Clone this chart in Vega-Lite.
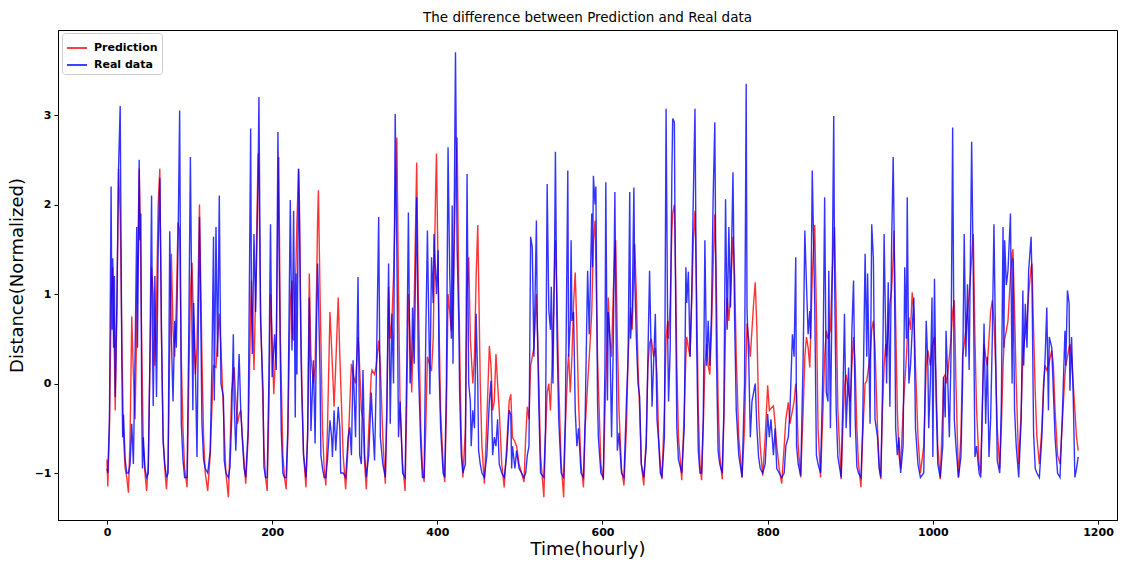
{
"$schema":"https://vega.github.io/schema/vega-lite/v6.json",
"width":1059,"height":490,
"autosize":{"type":"none"},
"padding":{"left":58,"top":30,"right":10,"bottom":43},
"background":"white",
"config":{"font":"DejaVu Sans","view":{"stroke":"black","strokeWidth":1}},
"title":{"text":"The difference between Prediction and Real data","fontSize":13.5,"fontWeight":"normal","font":"DejaVu Sans","offset":6,"color":"black"},
"data":{"values":[
{"t":0,"p":-0.85,"r":-0.95},{"t":1,"p":-1.15,"r":-1.0},{"t":3,"p":-0.5,"r":-0.4},{"t":5,"p":0.9,"r":2.2},{"t":6,"r":0.6},{"t":7,"p":1.3,"r":1.4},{"t":8,"r":0.4},{"t":9,"p":0.3,"r":1.2},{"t":10,"p":-0.3,"r":-0.15},{"t":12,"p":0.8,"r":0.9},{"t":14,"p":2.4,"r":2.4},{"t":16,"p":1.9,"r":3.1},{"t":18,"p":0.5,"r":0.2},{"t":19,"r":-0.6},{"t":20,"p":-0.6,"r":-0.35},{"t":22,"p":-0.95,"r":-0.85},{"t":24,"p":-1.05,"r":-1.0},{"t":26,"p":-1.22,"r":-1.0},
{"t":28,"p":-0.6,"r":-0.9},{"t":30,"p":0.75,"r":-0.45},{"t":32,"p":0.1,"r":-0.9},{"t":33,"r":-0.3},{"t":34,"p":-0.4,"r":0.3},{"t":36,"p":0.6,"r":1.75},{"t":37,"r":0.4},{"t":39,"p":2.4,"r":2.5},{"t":40,"p":1.9,"r":1.6},{"t":41,"r":1.9},{"t":42,"p":0.5,"r":-0.2},{"t":43,"r":-0.95},{"t":44,"p":-0.7,"r":-0.6},{"t":46,"p":-1.0,"r":-0.95},{"t":48,"p":-1.2,"r":-1.05},{"t":50,"p":-0.9,"r":-1.0},
{"t":52,"p":0.2,"r":0.3},{"t":54,"p":1.3,"r":2.1},{"t":55,"r":0.6},{"t":56,"p":1.0,"r":-0.25},{"t":58,"p":0.2,"r":1.2},{"t":60,"p":0.9,"r":-0.15},{"t":62,"p":2.0,"r":1.5},{"t":64,"p":2.4,"r":2.3},{"t":66,"p":0.5,"r":0.6},{"t":68,"p":-0.6,"r":-0.65},{"t":70,"p":-0.95,"r":-0.9},{"t":72,"p":-1.18,"r":-1.05},{"t":74,"p":-0.9,"r":-1.0},
{"t":76,"p":0.4,"r":1.7},{"t":78,"p":1.45,"r":0.5},{"t":80,"p":0.6,"r":-0.2},{"t":82,"p":0.3,"r":0.7},{"t":84,"p":0.9,"r":0.4},{"t":86,"p":1.8,"r":1.5},{"t":88,"p":1.7,"r":3.05},{"t":90,"p":0.3,"r":-0.45},{"t":92,"p":-0.5,"r":-0.85},{"t":94,"p":-0.95,"r":-1.05},{"t":97,"p":-1.16,"r":-1.05},
{"t":99,"p":0.0,"r":0.5},{"t":101,"p":1.0,"r":2.53},{"t":103,"p":1.35,"r":0.6},{"t":104,"r":-0.3},{"t":105,"p":0.6,"r":0.9},{"t":107,"p":0.1,"r":0.2},{"t":109,"p":0.4,"r":-0.82},{"t":112,"p":2.0,"r":1.86},{"t":113,"r":1.2},{"t":115,"p":0.3,"r":-0.45},{"t":117,"p":-0.6,"r":-0.85},{"t":119,"p":-1.0,"r":-0.95},{"t":122,"p":-1.2,"r":-1.0},
{"t":125,"p":-0.8,"r":-0.75},{"t":127,"p":-0.3,"r":0.15},{"t":129,"p":0.2,"r":1.64},{"t":130,"r":-0.19},{"t":132,"p":0.18,"r":1.75},{"t":134,"p":0.5,"r":0.3},{"t":136,"p":0.78,"r":2.1},{"t":138,"p":0.4,"r":0.0},{"t":141,"p":-0.3,"r":-0.15},{"t":142,"r":-0.86},{"t":144,"p":-1.0,"r":-1.0},{"t":147,"p":-1.27,"r":-1.05},
{"t":149,"p":-0.7,"r":-0.93},{"t":151,"p":-0.08,"r":-0.4},{"t":153,"p":0.1,"r":0.55},{"t":154,"p":0.18,"r":-0.2},{"t":156,"p":-0.2,"r":-0.75},{"t":158,"p":-0.45,"r":-0.2},{"t":160,"p":-0.35,"r":0.33},{"t":162,"p":-0.3,"r":-0.3},{"t":164,"p":-0.6,"r":-0.64},{"t":166,"p":-0.86,"r":-0.95},{"t":168,"p":-1.12,"r":-1.05},
{"t":171,"p":-0.6,"r":-0.5},{"t":174,"p":0.8,"r":2.85},{"t":175,"p":1.15,"r":0.8},{"t":176,"r":0.33},{"t":178,"p":0.15,"r":1.67},{"t":180,"p":1.0,"r":0.8},{"t":183,"p":2.57,"r":2.3},{"t":184,"p":2.3,"r":3.2},{"t":186,"p":0.8,"r":0.7},{"t":189,"p":-0.3,"r":-0.08},{"t":190,"p":-0.7,"r":-0.93},{"t":192,"p":-1.05,"r":-1.05},
{"t":194,"p":-1.2,"r":-1.05},{"t":196,"p":-0.3,"r":0.0},{"t":198,"p":1.0,"r":1.78},{"t":200,"p":0.5,"r":0.07},{"t":202,"p":-0.12,"r":0.4},{"t":203,"r":0.55},{"t":205,"p":0.5,"r":0.15},{"t":207,"p":2.0,"r":2.81},{"t":208,"p":2.53,"r":1.8},{"t":210,"p":0.5,"r":0.2},{"t":211,"r":-0.53},{"t":213,"p":-0.8,"r":-1.0},{"t":215,"p":-1.05,"r":-1.05},{"t":217,"p":-1.18,"r":-1.05},
{"t":219,"p":-0.6,"r":-0.5},{"t":221,"p":0.5,"r":1.2},{"t":222,"p":0.9,"r":2.05},{"t":224,"p":1.15,"r":0.37},{"t":225,"p":0.5,"r":1.0},{"t":226,"p":0.48,"r":1.93},{"t":228,"p":1.0,"r":-0.38},{"t":229,"r":1.23},{"t":230,"p":1.8,"r":0.1},{"t":232,"p":2.4,"r":2.4},{"t":233,"p":2.0,"r":1.86},{"t":235,"p":0.5,"r":0.3},{"t":236,"p":0.0,"r":-0.15},{"t":238,"p":-0.8,"r":-0.79},{"t":241,"p":-1.16,"r":-1.05},
{"t":243,"p":-0.5,"r":-0.6},{"t":245,"p":1.23,"r":0.96},{"t":247,"p":0.3,"r":-0.53},{"t":250,"p":0.0,"r":0.26},{"t":252,"p":0.2,"r":-0.67},{"t":254,"p":1.2,"r":0.8},{"t":255,"p":1.8,"r":1.34},{"t":256,"p":2.16,"r":1.0},{"t":258,"p":1.0,"r":0.1},{"t":259,"r":-0.8},{"t":261,"p":-0.5,"r":-0.95},{"t":263,"p":-0.95,"r":-1.05},{"t":265,"p":-1.14,"r":-1.05},
{"t":267,"p":-0.5,"r":-0.85},{"t":270,"p":0.8,"r":-0.41},{"t":272,"p":0.4,"r":-0.6},{"t":273,"r":-0.82},{"t":275,"p":-0.26,"r":-0.3},{"t":277,"p":0.2,"r":-0.75},{"t":280,"p":0.96,"r":-0.26},{"t":282,"p":0.3,"r":-0.5},{"t":283,"r":-1.0},{"t":286,"p":-0.8,"r":-1.0},{"t":289,"p":-1.18,"r":-1.05},
{"t":292,"p":-0.7,"r":-0.6},{"t":294,"r":-0.49},{"t":296,"p":0.22,"r":-0.8},{"t":298,"p":0.1,"r":0.26},{"t":301,"p":0.0,"r":-0.6},{"t":304,"p":0.52,"r":1.19},{"t":305,"p":0.4,"r":0.2},{"t":306,"r":-0.8},{"t":308,"p":-0.3,"r":-0.9},{"t":310,"p":-0.4,"r":0.15},{"t":312,"p":-0.9,"r":-0.8},{"t":314,"p":-1.18,"r":-1.05},
{"t":317,"p":-0.5,"r":-0.8},{"t":320,"p":0.1,"r":-0.1},{"t":321,"p":0.15,"r":-0.3},{"t":324,"p":0.1,"r":-0.86},{"t":326,"p":0.2,"r":0.0},{"t":329,"p":0.48,"r":1.86},{"t":331,"p":0.2,"r":-0.6},{"t":334,"p":-0.6,"r":-0.9},{"t":337,"p":-1.12,"r":-1.05},
{"t":339,"p":-0.3,"r":-0.2},{"t":341,"p":1.08,"r":1.34},{"t":343,"p":0.5,"r":-0.45},{"t":345,"p":0.7,"r":0.78},{"t":347,"p":1.2,"r":0.0},{"t":349,"p":2.0,"r":3.01},{"t":351,"p":2.75,"r":1.5},{"t":353,"p":1.0,"r":-0.6},{"t":355,"p":-0.3,"r":-0.2},{"t":358,"p":-0.9,"r":-1.0},{"t":361,"p":-1.2,"r":-1.05},
{"t":363,"p":-0.2,"r":0.2},{"t":365,"p":1.0,"r":1.91},{"t":367,"p":0.5,"r":0.0},{"t":369,"p":-0.1,"r":0.3},{"t":370,"r":0.85},{"t":372,"p":0.9,"r":0.22},{"t":375,"p":2.47,"r":2.08},{"t":377,"p":1.0,"r":0.2},{"t":380,"p":-0.5,"r":-0.7},{"t":382,"p":-0.95,"r":-1.05},{"t":384,"p":-1.1,"r":-1.05},
{"t":386,"p":-0.5,"r":0.5},{"t":388,"p":0.3,"r":1.71},{"t":391,"p":0.2,"r":-0.12},{"t":393,"p":0.14,"r":1.41},{"t":395,"p":0.5,"r":0.9},{"t":396,"r":1.67},{"t":398,"p":2.2,"r":1.2},{"t":399,"p":2.57,"r":1.0},{"t":401,"p":1.2,"r":1.49},{"t":402,"r":0.2},{"t":404,"p":-0.3,"r":-0.5},{"t":407,"p":-0.9,"r":-1.0},{"t":409,"p":-1.1,"r":-1.05},
{"t":411,"p":-0.3,"r":0.0},{"t":413,"p":1.0,"r":2.64},{"t":415,"p":0.8,"r":1.23},{"t":417,"p":0.59,"r":0.5},{"t":418,"r":1.99},{"t":419,"p":0.9,"r":0.22},{"t":422,"p":2.2,"r":3.7},{"t":424,"p":2.75,"r":1.5},{"t":426,"p":1.0,"r":0.7},{"t":427,"r":-0.1},{"t":429,"p":-0.6,"r":-0.8},{"t":431,"p":-1.05,"r":-1.0},
{"t":434,"p":-0.5,"r":-0.9},{"t":436,"p":1.0,"r":2.34},{"t":438,"p":1.41,"r":0.0},{"t":440,"p":0.5,"r":-0.2},{"t":441,"r":-0.7},{"t":443,"p":0.0,"r":-0.3},{"t":445,"p":0.3,"r":-0.5},{"t":447,"p":1.2,"r":0.78},{"t":449,"p":1.77,"r":0.0},{"t":450,"r":-0.75},{"t":452,"p":0.0,"r":-0.9},{"t":454,"p":-0.7,"r":-1.0},{"t":457,"p":-1.12,"r":-1.05},
{"t":460,"p":-0.4,"r":-0.8},{"t":463,"p":0.42,"r":-0.2},{"t":465,"p":0.2,"r":0.03},{"t":467,"p":-0.3,"r":-0.8},{"t":469,"p":-0.2,"r":-0.6},{"t":471,"p":0.33,"r":-0.7},{"t":473,"p":0.0,"r":-0.4},{"t":475,"p":-0.3,"r":-0.9},{"t":478,"p":-0.9,"r":-1.0},{"t":481,"p":-1.16,"r":-1.05},
{"t":484,"p":-0.7,"r":-0.8},{"t":487,"p":-0.2,"r":-0.3},{"t":489,"p":-0.12,"r":-0.35},{"t":490,"r":-0.95},{"t":491,"p":-0.6,"r":-0.7},{"t":494,"p":-0.65,"r":-0.95},{"t":496,"p":-0.7,"r":-0.75},{"t":499,"p":-0.9,"r":-0.95},{"t":502,"p":-1.0,"r":-1.0},{"t":505,"p":-1.1,"r":-1.05},
{"t":507,"p":-0.6,"r":-1.0},{"t":509,"p":-0.26,"r":-0.8},{"t":511,"p":-0.4,"r":-0.7},{"t":513,"p":0.2,"r":1.64},{"t":515,"p":0.3,"r":1.52},{"t":517,"p":0.4,"r":0.3},{"t":520,"p":1.0,"r":1.82},{"t":521,"r":0.7},{"t":523,"p":0.0,"r":-0.3},{"t":525,"p":-0.8,"r":-1.0},{"t":529,"p":-1.27,"r":-1.05},
{"t":531,"p":-0.6,"r":-0.5},{"t":533,"p":-0.1,"r":2.23},{"t":535,"p":0.0,"r":0.82},{"t":537,"p":-0.3,"r":0.6},{"t":538,"r":1.08},{"t":540,"p":0.5,"r":0.0},{"t":542,"p":1.3,"r":1.5},{"t":543,"p":1.6,"r":2.59},{"t":545,"p":0.9,"r":0.5},{"t":547,"p":0.0,"r":-0.4},{"t":550,"p":-0.9,"r":-1.0},{"t":553,"p":-1.27,"r":-1.05},
{"t":555,"p":-0.5,"r":-0.4},{"t":558,"p":0.2,"r":2.38},{"t":559,"p":0.33,"r":0.3},{"t":561,"p":-0.1,"r":0.7},{"t":562,"r":1.6},{"t":563,"p":0.3,"r":0.7},{"t":565,"p":0.9,"r":0.8},{"t":567,"p":1.24,"r":-0.3},{"t":569,"p":0.6,"r":-0.7},{"t":571,"p":-0.2,"r":-0.5},{"t":574,"p":-0.9,"r":-1.0},{"t":577,"p":-1.16,"r":-1.05},
{"t":579,"p":-0.5,"r":-0.4},{"t":582,"p":0.0,"r":1.26},{"t":584,"p":0.3,"r":0.55},{"t":587,"p":0.8,"r":1.9},{"t":588,"p":1.2,"r":1.3},{"t":589,"p":1.6,"r":2.32},{"t":591,"p":1.82,"r":2.0},{"t":592,"p":1.3,"r":2.2},{"t":594,"p":0.3,"r":-0.2},{"t":595,"r":-0.6},{"t":598,"p":-0.9,"r":-1.0},{"t":601,"p":-1.08,"r":-1.05},
{"t":603,"p":-0.3,"r":0.2},{"t":604,"p":0.0,"r":2.25},{"t":606,"p":0.6,"r":-0.19},{"t":607,"p":0.96,"r":0.8},{"t":609,"p":0.5,"r":0.5},{"t":611,"p":0.3,"r":-0.6},{"t":613,"p":1.0,"r":0.4},{"t":615,"p":1.5,"r":2.14},{"t":616,"p":1.6,"r":1.0},{"t":618,"p":0.5,"r":-0.75},{"t":620,"p":-0.3,"r":-0.55},{"t":623,"p":-0.95,"r":-1.0},{"t":626,"p":-1.14,"r":-1.05},
{"t":629,"p":-0.5,"r":-0.2},{"t":631,"p":0.3,"r":0.3},{"t":633,"p":0.7,"r":2.14},{"t":634,"p":0.85,"r":0.5},{"t":636,"p":0.6,"r":0.8},{"t":638,"p":1.3,"r":2.19},{"t":639,"p":1.56,"r":1.2},{"t":641,"p":1.0,"r":0.5},{"t":643,"p":0.2,"r":0.0},{"t":645,"p":-0.3,"r":-0.15},{"t":647,"p":-0.9,"r":-0.9},{"t":650,"p":-1.14,"r":-1.05},
{"t":653,"p":-0.6,"r":-0.7},{"t":655,"p":0.2,"r":0.3},{"t":657,"p":0.45,"r":1.26},{"t":659,"p":0.5,"r":0.3},{"t":660,"r":-0.26},{"t":662,"p":0.3,"r":0.25},{"t":664,"p":0.4,"r":0.78},{"t":666,"p":0.1,"r":-0.4},{"t":668,"p":-0.6,"r":-0.65},{"t":670,"p":-0.9,"r":-1.0},{"t":672,"p":-1.07,"r":-1.05},
{"t":675,"p":-0.3,"r":-0.6},{"t":677,"p":0.5,"r":3.07},{"t":679,"p":0.7,"r":0.5},{"t":680,"p":0.5,"r":-0.2},{"t":682,"p":0.9,"r":0.4},{"t":684,"p":1.7,"r":2.34},{"t":685,"p":1.9,"r":2.96},{"t":687,"p":2.0,"r":2.92},{"t":688,"p":1.6,"r":1.5},{"t":690,"p":0.2,"r":-0.5},{"t":692,"p":-0.6,"r":-0.85},{"t":696,"p":-1.08,"r":-1.0},
{"t":699,"p":-0.3,"r":-0.5},{"t":701,"p":0.3,"r":1.3},{"t":702,"p":0.52,"r":0.9},{"t":704,"p":0.4,"r":1.25},{"t":706,"p":0.3,"r":0.3},{"t":708,"p":0.9,"r":1.0},{"t":710,"p":1.6,"r":2.1},{"t":712,"p":1.93,"r":3.07},{"t":714,"p":1.0,"r":0.5},{"t":716,"p":-0.3,"r":-0.75},{"t":718,"p":-0.9,"r":-1.0},{"t":720,"p":-1.08,"r":-1.0},
{"t":722,"p":-0.5,"r":-0.4},{"t":724,"p":0.2,"r":1.6},{"t":726,"p":0.44,"r":0.2},{"t":728,"p":0.2,"r":0.7},{"t":730,"p":0.1,"r":0.2},{"t":732,"p":0.6,"r":0.8},{"t":734,"p":1.3,"r":2.08},{"t":736,"p":1.89,"r":2.92},{"t":738,"p":1.0,"r":0.3},{"t":740,"p":-0.2,"r":-0.75},{"t":742,"p":-0.8,"r":-0.9},{"t":745,"p":-1.07,"r":-1.0},
{"t":747,"p":-0.4,"r":-0.3},{"t":749,"p":0.6,"r":2.06},{"t":751,"p":0.96,"r":0.6},{"t":753,"p":0.7,"r":1.75},{"t":755,"p":1.0,"r":0.85},{"t":758,"p":1.64,"r":2.36},{"t":760,"p":1.2,"r":0.7},{"t":762,"p":0.3,"r":-0.3},{"t":765,"p":-0.6,"r":-0.8},{"t":769,"p":-1.05,"r":-1.05},
{"t":772,"p":-0.5,"r":0.0},{"t":774,"p":0.3,"r":3.35},{"t":775,"p":0.67,"r":0.82},{"t":777,"p":0.5,"r":0.3},{"t":779,"p":0.3,"r":-0.6},{"t":781,"p":0.6,"r":-0.2},{"t":783,"p":0.9,"r":-0.1},{"t":785,"p":1.13,"r":0.0},{"t":787,"p":0.6,"r":-0.5},{"t":789,"p":-0.3,"r":-0.82},{"t":791,"p":-0.7,"r":-0.95},{"t":794,"p":-1.03,"r":-1.0},
{"t":797,"p":-0.6,"r":-0.9},{"t":800,"p":-0.02,"r":-0.34},{"t":802,"p":-0.3,"r":-0.6},{"t":804,"p":-0.28,"r":-0.4},{"t":807,"p":-0.25,"r":-0.8},{"t":809,"p":-0.45,"r":-0.5},{"t":811,"p":-0.7,"r":-0.95},{"t":814,"p":-0.95,"r":-1.0},{"t":817,"p":-1.12,"r":-1.05},
{"t":820,"p":-0.7,"r":-1.0},{"t":822,"p":-0.4,"r":-0.7},{"t":825,"p":-0.21,"r":-0.6},{"t":827,"p":-0.45,"r":-0.3},{"t":830,"p":-0.3,"r":0.55},{"t":832,"p":-0.2,"r":0.3},{"t":834,"p":0.0,"r":1.41},{"t":835,"p":-0.1,"r":-0.7},{"t":837,"p":-0.7,"r":-0.9},{"t":840,"p":-1.05,"r":-1.03},
{"t":843,"p":-0.3,"r":0.3},{"t":845,"p":0.3,"r":1.71},{"t":847,"p":0.52,"r":1.1},{"t":849,"p":0.4,"r":0.55},{"t":851,"p":0.18,"r":0.81},{"t":852,"r":0.5},{"t":854,"p":1.2,"r":2.38},{"t":857,"p":1.77,"r":0.9},{"t":859,"p":0.8,"r":-0.8},{"t":861,"p":-0.5,"r":-0.9},{"t":864,"p":-1.05,"r":-1.0},
{"t":867,"p":-0.3,"r":0.2},{"t":869,"p":0.3,"r":2.08},{"t":871,"p":0.59,"r":-0.1},{"t":873,"p":0.5,"r":-0.2},{"t":874,"r":1.26},{"t":876,"p":0.6,"r":-0.5},{"t":878,"p":1.2,"r":1.0},{"t":880,"p":1.6,"r":2.99},{"t":881,"p":1.75,"r":1.2},{"t":883,"p":0.8,"r":-0.3},{"t":885,"p":-0.3,"r":-0.82},{"t":889,"p":-1.07,"r":-1.05},
{"t":891,"p":-0.5,"r":-0.2},{"t":893,"p":-0.04,"r":0.78},{"t":895,"p":0.1,"r":-0.5},{"t":898,"p":-0.1,"r":0.18},{"t":900,"p":-0.2,"r":-0.6},{"t":902,"p":0.2,"r":0.6},{"t":904,"p":0.52,"r":1.15},{"t":906,"p":0.2,"r":-0.4},{"t":908,"p":-0.5,"r":-0.93},{"t":910,"p":-0.9,"r":-1.0},{"t":913,"p":-1.16,"r":-1.05},
{"t":915,"p":-0.6,"r":-0.5},{"t":918,"p":0.0,"r":1.45},{"t":920,"p":0.03,"r":0.3},{"t":921,"r":1.23},{"t":924,"p":0.3,"r":-0.45},{"t":926,"p":0.6,"r":1.78},{"t":928,"p":0.7,"r":1.4},{"t":930,"p":0.4,"r":-0.4},{"t":933,"p":-0.5,"r":-0.6},{"t":935,"p":-0.9,"r":-0.95},{"t":937,"p":-1.07,"r":-1.05},
{"t":939,"p":-0.3,"r":-0.1},{"t":941,"p":0.2,"r":1.67},{"t":943,"p":0.44,"r":0.5},{"t":944,"p":0.3,"r":0.0},{"t":946,"p":0.6,"r":1.13},{"t":948,"p":0.9,"r":-0.26},{"t":950,"p":1.04,"r":1.5},{"t":952,"p":1.4,"r":2.53},{"t":953,"p":1.71,"r":1.8},{"t":955,"p":0.7,"r":-0.5},{"t":957,"p":-0.3,"r":-0.8},{"t":959,"p":-0.8,"r":-0.6},{"t":961,"p":-0.95,"r":-1.0},
{"t":964,"p":-0.3,"r":-0.7},{"t":966,"p":0.0,"r":1.3},{"t":968,"p":0.3,"r":0.5},{"t":969,"p":0.5,"r":2.08},{"t":971,"p":0.74,"r":0.0},{"t":973,"p":0.6,"r":0.2},{"t":975,"p":1.02,"r":0.6},{"t":977,"p":0.8,"r":0.96},{"t":979,"p":0.2,"r":-0.5},{"t":982,"p":-0.6,"r":-0.9},{"t":985,"p":-1.0,"r":-1.05},
{"t":989,"p":-0.7,"r":-1.0},{"t":991,"p":-0.1,"r":0.2},{"t":992,"p":0.2,"r":0.7},{"t":994,"p":0.37,"r":0.2},{"t":995,"r":-0.5},{"t":997,"p":0.2,"r":0.0},{"t":999,"p":0.4,"r":0.96},{"t":1000,"r":-0.82},{"t":1002,"p":0.52,"r":1.17},{"t":1004,"p":0.0,"r":-0.2},{"t":1006,"p":-0.7,"r":-0.9},{"t":1009,"p":-1.07,"r":-1.05},
{"t":1012,"p":-0.3,"r":-0.7},{"t":1013,"p":0.07,"r":0.07},{"t":1015,"p":0.1,"r":-0.38},{"t":1016,"p":0.0,"r":0.59},{"t":1018,"p":0.1,"r":0.07},{"t":1020,"p":0.3,"r":-0.6},{"t":1022,"p":0.5,"r":0.3},{"t":1024,"p":0.8,"r":2.86},{"t":1026,"p":0.93,"r":-0.4},{"t":1028,"p":0.0,"r":-0.7},{"t":1031,"p":-1.05,"r":-1.05},
{"t":1034,"p":-0.6,"r":-0.82},{"t":1036,"p":0.3,"r":0.0},{"t":1038,"p":0.44,"r":1.67},{"t":1040,"p":0.6,"r":0.3},{"t":1042,"p":0.8,"r":1.11},{"t":1044,"p":1.0,"r":0.15},{"t":1047,"p":1.4,"r":2.7},{"t":1049,"p":1.67,"r":1.2},{"t":1051,"p":0.5,"r":-0.82},{"t":1053,"p":-0.3,"r":-0.7},{"t":1056,"p":-0.9,"r":-1.0},{"t":1058,"p":-1.0,"r":-1.05},
{"t":1060,"p":-0.2,"r":-0.3},{"t":1062,"p":0.44,"r":0.67},{"t":1064,"p":0.3,"r":-0.45},{"t":1066,"p":0.2,"r":0.3},{"t":1068,"p":0.5,"r":-0.82},{"t":1070,"p":0.8,"r":-0.4},{"t":1072,"p":0.93,"r":0.5},{"t":1074,"p":0.7,"r":1.78},{"t":1076,"p":0.2,"r":0.4},{"t":1078,"p":-0.5,"r":-0.86},{"t":1081,"p":-0.95,"r":-1.0},
{"t":1083,"p":-0.5,"r":-0.2},{"t":1085,"p":0.2,"r":1.75},{"t":1086,"p":0.4,"r":0.4},{"t":1087,"p":0.5,"r":1.6},{"t":1089,"p":0.59,"r":1.1},{"t":1091,"p":0.7,"r":1.26},{"t":1094,"p":1.2,"r":1.9},{"t":1096,"p":1.45,"r":0.0},{"t":1097,"p":1.5,"r":1.4},{"t":1099,"p":0.8,"r":-0.3},{"t":1101,"p":0.0,"r":-0.7},{"t":1104,"p":-0.9,"r":-1.05},
{"t":1107,"p":-0.3,"r":-0.4},{"t":1109,"p":0.3,"r":1.04},{"t":1110,"p":0.4,"r":0.2},{"t":1112,"p":0.56,"r":0.89},{"t":1114,"p":0.7,"r":0.4},{"t":1116,"p":1.0,"r":1.26},{"t":1119,"p":1.3,"r":1.64},{"t":1120,"p":1.34,"r":1.2},{"t":1122,"p":0.6,"r":-0.55},{"t":1124,"p":-0.1,"r":-0.95},{"t":1126,"p":-0.6,"r":-1.0},{"t":1129,"p":-0.9,"r":-1.05},
{"t":1132,"p":-0.5,"r":-0.6},{"t":1134,"p":0.0,"r":-0.1},{"t":1136,"p":0.2,"r":0.3},{"t":1138,"p":0.15,"r":0.85},{"t":1140,"p":0.2,"r":-0.3},{"t":1141,"r":0.52},{"t":1144,"p":0.37,"r":0.4},{"t":1146,"p":0.2,"r":-0.1},{"t":1148,"p":-0.3,"r":-0.6},{"t":1151,"p":-0.8,"r":-1.0},{"t":1154,"p":-0.9,"r":-1.05},
{"t":1157,"p":-0.4,"r":-0.3},{"t":1160,"p":0.1,"r":0.59},{"t":1161,"p":0.2,"r":0.2},{"t":1163,"p":0.3,"r":1.04},{"t":1165,"p":0.4,"r":0.9},{"t":1166,"p":0.44,"r":-0.08},{"t":1168,"p":0.3,"r":0.52},{"t":1170,"p":0.0,"r":-0.15},{"t":1172,"p":-0.3,"r":-1.05},{"t":1174,"p":-0.6,"r":-0.95},{"t":1176,"p":-0.75,"r":-0.82}
]},
"transform":[{"fold":["p","r"],"as":["s","v"]},{"filter":"isValid(datum.v)"}],
"mark":{"type":"line","strokeWidth":1.4,"opacity":0.8,"interpolate":"linear"},
"encoding":{
"x":{"field":"t","type":"quantitative","scale":{"domain":[-59.3,1223],"nice":false,"zero":false},
"axis":{"values":[0,200,400,600,800,1000,1200],"title":"Time(hourly)","titleFontSize":18,"titleFontWeight":"normal","titleColor":"black","titlePadding":3,"labelFontSize":11,"labelFontWeight":"bold","labelColor":"black","tickColor":"black","domainColor":"black","tickSize":4,"labelPadding":2,"grid":false,"format":"d"}},
"y":{"field":"v","type":"quantitative","scale":{"domain":[-1.525,3.95],"nice":false,"zero":false},
"axis":{"values":[-1,0,1,2,3],"title":"Distance(Normalized)","titleFontSize":18,"titleFontWeight":"normal","titleColor":"black","titlePadding":8,"labelFontSize":11,"labelFontWeight":"bold","labelColor":"black","tickColor":"black","domainColor":"black","tickSize":4,"labelPadding":3,"grid":false,"format":"d"}},
"color":{"field":"s","type":"nominal","scale":{"domain":["p","r"],"range":["#ff0000","#0000ff"]},
"legend":{"title":null,"orient":"none","legendX":4,"legendY":3,"symbolType":"stroke","symbolStrokeWidth":1.5,"symbolSize":400,"labelFontSize":11,"labelFontWeight":"bold","labelColor":"black","labelOffset":6,"labelExpr":"datum.value == 'p' ? 'Prediction' : 'Real data'","strokeColor":"#cccccc","fillColor":"white","padding":4,"cornerRadius":3,"rowPadding":1,"symbolOpacity":1}}
}
}
